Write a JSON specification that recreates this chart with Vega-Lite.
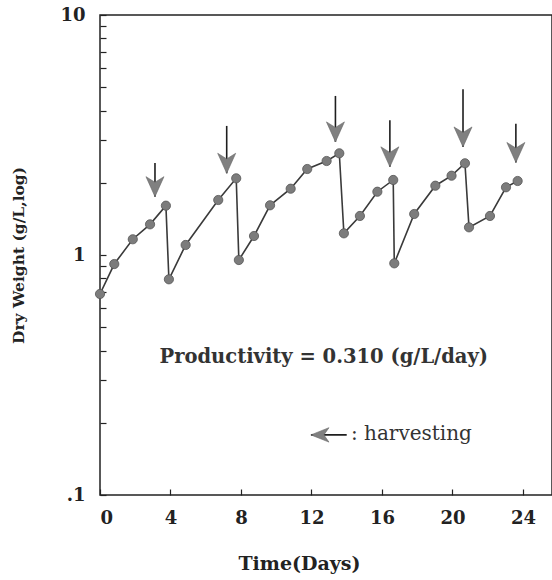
{
  "$schema": "https://vega.github.io/schema/vega-lite/v6.json",
  "autosize": {"type": "none"},
  "padding": {"left": 100, "top": 15, "right": 0, "bottom": 85},
  "width": 452,
  "height": 480,
  "background": "white",
  "config": {
    "view": {"stroke": "#222", "strokeWidth": 1.5},
    "font": "DejaVu Serif",
    "axis": {"grid": false, "domain": false, "tickColor": "#222", "tickWidth": 1.2, "labelFont": "DejaVu Serif", "labelColor": "#222", "titleFont": "DejaVu Serif", "titleColor": "#222"}
  },
  "datasets": {
    "growth": [
      {"i": 1, "day": 0, "dw": 0.688},
      {"i": 2, "day": 0.81, "dw": 0.917},
      {"i": 3, "day": 1.86, "dw": 1.163},
      {"i": 4, "day": 2.84, "dw": 1.342},
      {"i": 5, "day": 3.74, "dw": 1.605},
      {"i": 6, "day": 3.91, "dw": 0.792},
      {"i": 7, "day": 4.86, "dw": 1.101},
      {"i": 8, "day": 6.71, "dw": 1.695},
      {"i": 9, "day": 7.73, "dw": 2.087},
      {"i": 10, "day": 7.88, "dw": 0.953},
      {"i": 11, "day": 8.74, "dw": 1.2},
      {"i": 12, "day": 9.65, "dw": 1.611},
      {"i": 13, "day": 10.82, "dw": 1.889},
      {"i": 14, "day": 11.76, "dw": 2.282},
      {"i": 15, "day": 12.86, "dw": 2.464},
      {"i": 16, "day": 13.58, "dw": 2.653},
      {"i": 17, "day": 13.84, "dw": 1.231},
      {"i": 18, "day": 14.75, "dw": 1.454},
      {"i": 19, "day": 15.74, "dw": 1.835},
      {"i": 20, "day": 16.64, "dw": 2.054},
      {"i": 21, "day": 16.7, "dw": 0.923},
      {"i": 22, "day": 17.83, "dw": 1.482},
      {"i": 23, "day": 19.03, "dw": 1.944},
      {"i": 24, "day": 19.95, "dw": 2.14},
      {"i": 25, "day": 20.71, "dw": 2.411},
      {"i": 26, "day": 20.94, "dw": 1.304},
      {"i": 27, "day": 22.13, "dw": 1.454},
      {"i": 28, "day": 23.04, "dw": 1.915},
      {"i": 29, "day": 23.7, "dw": 2.034}
    ],
    "harvest": [
      {"day": 3.12, "top": 2.42, "tip": 1.75},
      {"day": 7.19, "top": 3.45, "tip": 2.19},
      {"day": 13.36, "top": 4.6, "tip": 2.96},
      {"day": 16.45, "top": 3.64, "tip": 2.33},
      {"day": 20.6, "top": 4.9, "tip": 2.82},
      {"day": 23.6, "top": 3.52, "tip": 2.43}
    ],
    "legendArrow": [
      {"tipDay": 11.97, "tailDay": 14.0, "dw": 0.178}
    ],
    "notes": [
      {"day": 12.7, "dw": 0.376, "label": "Productivity = 0.310 (g/L/day)"}
    ],
    "legendText": [
      {"day": 14.24, "dw": 0.18, "label": ": harvesting"}
    ]
  },
  "layer": [
    {
      "data": {"name": "growth"},
      "mark": {"type": "line", "color": "#3a3a3a", "strokeWidth": 1.6},
      "encoding": {
        "x": {
          "field": "day", "type": "quantitative",
          "scale": {"domain": [0, 25.65], "nice": false, "zero": false},
          "axis": {
            "values": [0, 2, 4, 6, 8, 10, 12, 14, 16, 18, 20, 22, 24],
            "labelExpr": "datum.value % 4 == 0 ? datum.label : ''",
            "tickSize": -6,
            "labelPadding": 20,
            "labelFontSize": 18,
            "labelFontWeight": "bold",
            "title": "Time(Days)",
            "titleFontSize": 19,
            "titleFontWeight": "bold",
            "titleX": 199,
            "titlePadding": 27
          }
        },
        "y": {
          "field": "dw", "type": "quantitative",
          "scale": {"type": "log", "domain": [0.1, 10], "nice": false},
          "axis": {
            "values": [0.1, 0.2, 0.3, 0.4, 0.5, 0.6, 0.7, 0.8, 0.9, 1, 2, 3, 4, 5, 6, 7, 8, 9, 10],
            "labelExpr": "datum.value == 0.1 ? '.1' : (datum.value == 1 ? '1' : (datum.value == 10 ? '10' : ''))",
            "tickSize": -6,
            "labelPadding": 21,
            "labelFontSize": 18,
            "labelFontWeight": "bold",
            "title": "Dry Weight (g/L,log)",
            "titleFontSize": 15.5,
            "titleFontWeight": "bold",
            "titlePadding": 33
          }
        },
        "order": {"field": "i"}
      }
    },
    {
      "data": {"name": "growth"},
      "mark": {"type": "point", "shape": "circle", "filled": true, "size": 85, "fill": "#7c7c7c", "stroke": "#555", "strokeWidth": 0.8, "opacity": 1},
      "encoding": {
        "x": {"field": "day", "type": "quantitative"},
        "y": {"field": "dw", "type": "quantitative"}
      }
    },
    {
      "data": {"name": "harvest"},
      "mark": {"type": "rule", "color": "#1e1e1e", "strokeWidth": 1.6},
      "encoding": {
        "x": {"field": "day", "type": "quantitative"},
        "y": {"field": "top", "type": "quantitative"},
        "y2": {"field": "tip"}
      }
    },
    {
      "data": {"name": "harvest"},
      "mark": {"type": "point", "shape": "M-0.45,-1 L0,0 L0.45,-1 L0,-0.72 Z", "filled": true, "size": 1600, "fill": "#808080", "stroke": "#666", "strokeWidth": 0.6, "opacity": 1},
      "encoding": {
        "x": {"field": "day", "type": "quantitative"},
        "y": {"field": "tip", "type": "quantitative"}
      }
    },
    {
      "data": {"name": "legendArrow"},
      "mark": {"type": "rule", "color": "#1e1e1e", "strokeWidth": 1.6},
      "encoding": {
        "x": {"field": "tipDay", "type": "quantitative"},
        "x2": {"field": "tailDay"},
        "y": {"field": "dw", "type": "quantitative"}
      }
    },
    {
      "data": {"name": "legendArrow"},
      "mark": {"type": "point", "shape": "M0,0 L1,-0.4 L0.72,0 L1,0.4 Z", "filled": true, "size": 1300, "fill": "#808080", "stroke": "#666", "strokeWidth": 0.6, "opacity": 1},
      "encoding": {
        "x": {"field": "tipDay", "type": "quantitative"},
        "y": {"field": "dw", "type": "quantitative"}
      }
    },
    {
      "data": {"name": "notes"},
      "mark": {"type": "text", "font": "DejaVu Serif", "fontSize": 19.5, "fontWeight": "bold", "color": "#333", "align": "center", "baseline": "middle"},
      "encoding": {
        "x": {"field": "day", "type": "quantitative"},
        "y": {"field": "dw", "type": "quantitative"},
        "text": {"field": "label"}
      }
    },
    {
      "data": {"name": "legendText"},
      "mark": {"type": "text", "font": "DejaVu Serif", "fontSize": 20, "color": "#333", "align": "left", "baseline": "middle"},
      "encoding": {
        "x": {"field": "day", "type": "quantitative"},
        "y": {"field": "dw", "type": "quantitative"},
        "text": {"field": "label"}
      }
    }
  ]
}
